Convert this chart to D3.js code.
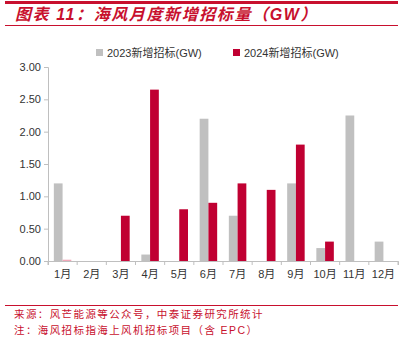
<!DOCTYPE html>
<html>
<head>
<meta charset="utf-8">
<script src="https://cdn.jsdelivr.net/npm/d3@7"></script>
<style>
  body { margin: 0; background: #fff; }
  svg text { font-family: Arial, "Liberation Sans", "Noto Sans CJK SC", sans-serif; }
</style>
</head>
<body>
<div class="chart"></div>
<script>
var months = ["1月", "2月", "3月", "4月", "5月", "6月", "7月", "8月", "9月", "10月", "11月", "12月"];
var series = ["2023新增招标(GW)", "2024新增招标(GW)"];
var values2023 = [1.2, 0, 0, 0.1, 0, 2.2, 0.7, 0, 1.2, 0.2, 2.25, 0.3];
var values2024 = [0.02, 0, 0.7, 2.65, 0.8, 0.9, 1.2, 1.1, 1.8, 0.3, null, null];
var yTicks = [0, 0.5, 1, 1.5, 2, 2.5, 3];
var colors = ["#c0c0c0", "#c00032"];

var svgWidth = 407;
var svgHeight = 342;
var margin = { top: 67, right: 9, bottom: 81, left: 48 };
var width = svgWidth - margin.left - margin.right;
var height = svgHeight - margin.top - margin.bottom;
var red = "#c8102e";

var svg = d3.select(".chart")
  .append("svg")
  .attr("width", svgWidth)
  .attr("height", svgHeight);

// title block
svg.append("rect").attr("x", 5).attr("y", 1).attr("width", 393).attr("height", 3).attr("fill", red);
svg.append("text")
  .attr("x", 15)
  .attr("y", 20)
  .attr("font-size", "16px")
  .attr("font-weight", "bold")
  .attr("font-style", "italic")
  .attr("letter-spacing", "1.6px")
  .attr("fill", red)
  .text("图表 11：海风月度新增招标量（GW）");
svg.append("rect").attr("x", 5).attr("y", 25).attr("width", 393).attr("height", 1).attr("fill", red);

var chartGroup = svg.append("g")
  .attr("transform", `translate(${margin.left}, ${margin.top})`);

var x0 = d3.scaleBand().domain(months).range([0, width]);
var x1 = d3.scaleBand().domain([0, 1]).range([x0.bandwidth() * 0.2, x0.bandwidth() * 0.8]);
var y = d3.scaleLinear().domain([0, 3]).range([height, 0]);

// y axis
var leftAxis = d3.axisLeft(y).tickValues(yTicks).tickFormat(d3.format(".2f")).tickSize(4).tickPadding(3);
var yAxis = chartGroup.append("g").call(leftAxis);
yAxis.select(".domain").attr("stroke", "#bfbfbf");
yAxis.selectAll(".tick line").attr("stroke", "#bfbfbf");
yAxis.selectAll("text").attr("font-size", "11px").attr("fill", "#333");

// bars
var rows = months.map(function(m, i) {
  return { month: m, vals: [values2023[i], values2024[i]] };
});
var groups = chartGroup.selectAll(".month")
  .data(rows)
  .enter()
  .append("g")
  .attr("transform", d => `translate(${x0(d.month)}, 0)`);

groups.selectAll("rect")
  .data(d => d.vals.map((v, k) => ({ k: k, v: v })).filter(e => e.v))
  .enter()
  .append("rect")
  .attr("x", d => x1(d.k))
  .attr("y", d => y(d.v))
  .attr("width", x1.bandwidth())
  .attr("height", d => Math.max(height - y(d.v), 1))
  .attr("fill", d => d.v < 0.05 ? "#f2a7b8" : colors[d.k]);

// x axis
var bottomAxis = d3.axisBottom(x0).tickSize(4).tickPadding(5);
var xAxis = chartGroup.append("g")
  .attr("transform", `translate(0, ${height})`)
  .call(bottomAxis);
xAxis.select(".domain").attr("stroke", "#bfbfbf");
xAxis.selectAll(".tick line")
  .attr("stroke", "#bfbfbf")
  .attr("transform", `translate(${-x0.bandwidth() / 2}, 0)`);
xAxis.append("line")
  .attr("x1", width).attr("x2", width).attr("y1", 0).attr("y2", 4)
  .attr("stroke", "#bfbfbf");
xAxis.selectAll("text").attr("font-size", "11px").attr("fill", "#333");

// legend
var legendX = [96, 233];
series.forEach(function(s, i) {
  var g = svg.append("g").attr("transform", `translate(${legendX[i]}, 53)`);
  g.append("rect").attr("x", 0).attr("y", -4).attr("width", 7).attr("height", 7).attr("fill", colors[i]);
  g.append("text")
    .attr("x", 11)
    .attr("y", 4)
    .attr("font-size", "11px")
    .attr("fill", "#333")
    .text(s);
});

// source notes
svg.append("rect").attr("x", 5).attr("y", 305).attr("width", 393).attr("height", 1).attr("fill", red);
var notes = ["来源：风芒能源等公众号，中泰证券研究所统计", "注：海风招标指海上风机招标项目（含 EPC）"];
svg.selectAll(".note")
  .data(notes)
  .enter()
  .append("text")
  .attr("x", 14)
  .attr("y", (d, i) => 318 + i * 16)
  .attr("font-size", "10.5px")
  .attr("letter-spacing", "1.4px")
  .attr("fill", red)
  .text(d => d);
</script>
</body>
</html>
